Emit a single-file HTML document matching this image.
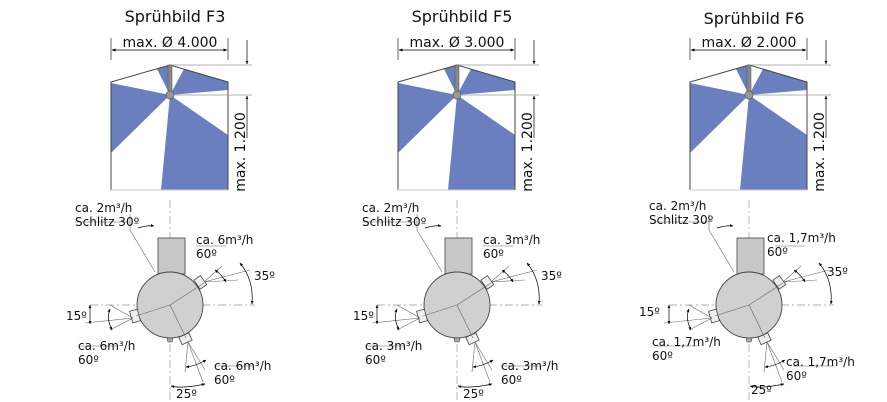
<!DOCTYPE html>
<html><head><meta charset="utf-8"><style>
html,body{margin:0;padding:0;background:#fff;}
svg{display:block;font-family:"DejaVu Sans",sans-serif;}
</style></head><body>
<svg width="887" height="402" viewBox="0 0 887 402" xmlns="http://www.w3.org/2000/svg">
<defs>
<marker id="a" viewBox="0 0 10 10" refX="9" refY="5" markerWidth="5" markerHeight="5" orient="auto-start-reverse"><path d="M0,1L10,5L0,9z" fill="#000"/></marker>
<g id="top">
  <polygon points="111,82 170,65 228,82 228,190 111,190" fill="#fff"/>
  <polygon points="170,95 157,69 170,65" fill="#6b7fbf"/>
  <polygon points="170,95 184,69 228,82 228,90" fill="#6b7fbf"/>
  <polygon points="170,95 228,135 228,190 161,190" fill="#6b7fbf"/>
  <polygon points="170,95 111,83 111,153" fill="#6b7fbf"/>
  <polyline points="111,190 111,82 170,65 228,82 228,190" fill="none" stroke="#444" stroke-width="1"/>
  <line x1="111" y1="190" x2="228" y2="190" stroke="#ccc"/>
  <rect x="168" y="65" width="4" height="30" fill="#888" stroke="#555" stroke-width="0.5"/>
  <circle cx="170" cy="95" r="4" fill="#999" stroke="#555" stroke-width="0.7"/>
  <line x1="111" y1="38" x2="111" y2="60" stroke="#000" stroke-width="0.6"/>
  <line x1="228" y1="38" x2="228" y2="60" stroke="#000" stroke-width="0.6"/>
  <line x1="112" y1="50" x2="227" y2="50" stroke="#000" stroke-width="0.8" marker-start="url(#a)" marker-end="url(#a)"/>
  <line x1="172" y1="65" x2="252" y2="65" stroke="#999" stroke-width="0.8"/>
  <line x1="172" y1="95" x2="252" y2="95" stroke="#999" stroke-width="0.8"/>
  <line x1="247" y1="40" x2="247" y2="64" stroke="#000" stroke-width="0.7" marker-end="url(#a)"/>
  <line x1="247" y1="96" x2="247" y2="138" stroke="#000" stroke-width="0.7" marker-start="url(#a)"/>
</g>
<g id="bot">
  <line x1="170" y1="200" x2="170" y2="400" stroke="#999" stroke-width="0.7" stroke-dasharray="8,3,2,3"/>
  <line x1="90" y1="305" x2="255" y2="305" stroke="#999" stroke-width="0.7" stroke-dasharray="8,3,2,3"/>
  <rect x="158" y="238" width="27" height="36" fill="#c8c8c8" stroke="#444" stroke-width="0.8"/>
  <circle cx="170" cy="305" r="33" fill="#d0d0d0" stroke="#444" stroke-width="0.9"/>
  <rect x="196" y="277" width="8" height="11" fill="#eee" stroke="#444" stroke-width="0.8" transform="rotate(-35 200 282)"/>
  <rect x="131" y="310" width="8" height="12" fill="#eee" stroke="#444" stroke-width="0.8" transform="rotate(-15 135 316)"/>
  <rect x="180" y="335" width="11" height="8" fill="#eee" stroke="#444" stroke-width="0.8" transform="rotate(-25 185 339)"/>
  <path d="M167,338 h6 l-1,4 h-4z" fill="#aaa" stroke="#444" stroke-width="0.6"/>
  <g stroke="#666" stroke-width="0.6" fill="none">
    <line x1="170" y1="305" x2="204" y2="283"/><line x1="170" y1="305" x2="136" y2="316"/><line x1="170" y1="305" x2="186" y2="338"/>
    <line x1="130" y1="230" x2="155" y2="272"/><line x1="130" y1="230" x2="130" y2="214"/>
    <line x1="204" y1="282" x2="222" y2="266"/><line x1="204" y1="282" x2="238" y2="280"/><line x1="204" y1="282" x2="250" y2="270"/>
    <line x1="133" y1="318" x2="110" y2="305"/><line x1="133" y1="318" x2="110" y2="330"/><line x1="133" y1="318" x2="85" y2="323"/>
    <line x1="188" y1="342" x2="185" y2="372"/><line x1="188" y1="342" x2="205" y2="370"/><line x1="188" y1="342" x2="203" y2="382"/>
    <line x1="196" y1="246" x2="226" y2="246"/><line x1="78" y1="346" x2="118" y2="346"/><line x1="214" y1="366" x2="255" y2="366"/><line x1="75" y1="222" x2="130" y2="222"/>
  </g>
  <g stroke="#000" stroke-width="0.7" fill="none">
    <path d="M138,228 Q148,225 154,226" marker-end="url(#a)"/>
    <path d="M215,270 Q222,275 226,282" marker-start="url(#a)" marker-end="url(#a)"/>
    <path d="M240,263 Q254,280 252,304" marker-start="url(#a)" marker-end="url(#a)"/>
    <path d="M90,305 L90,324" marker-start="url(#a)" marker-end="url(#a)"/>
    <path d="M110,309 Q106,318 112,330" marker-start="url(#a)" marker-end="url(#a)"/>
    <path d="M186,367 Q196,366 206,360" marker-start="url(#a)" marker-end="url(#a)"/>
    <path d="M171,386 Q182,389 205,384" marker-start="url(#a)" marker-end="url(#a)"/>
  </g>
</g>
</defs>

<g font-size="12" fill="#111">
<!-- F3 -->
<text x="175" y="22" font-size="16" text-anchor="middle">Sprühbild F3</text>
<use href="#top"/><use href="#bot"/>
<text x="170" y="47" font-size="14" text-anchor="middle">max. Ø 4.000</text>
<text transform="translate(245,152) rotate(-90)" font-size="14" text-anchor="middle">max. 1.200</text>
<text x="75" y="212">ca. 2m³/h</text><text x="75" y="226">Schlitz 30º</text>
<text x="196" y="244">ca. 6m³/h</text><text x="196" y="258">60º</text>
<text x="254" y="280">35º</text><text x="66" y="320">15º</text>
<text x="78" y="350">ca. 6m³/h</text><text x="78" y="364">60º</text>
<text x="214" y="370">ca. 6m³/h</text><text x="214" y="384">60º</text>
<text x="176" y="398">25º</text>

<!-- F5 -->
<g transform="translate(287,0)">
<text x="175" y="22" font-size="16" text-anchor="middle">Sprühbild F5</text>
<use href="#top"/><use href="#bot"/>
<text x="170" y="47" font-size="14" text-anchor="middle">max. Ø 3.000</text>
<text transform="translate(245,152) rotate(-90)" font-size="14" text-anchor="middle">max. 1.200</text>
<text x="75" y="212">ca. 2m³/h</text><text x="75" y="226">Schlitz 30º</text>
<text x="196" y="244">ca. 3m³/h</text><text x="196" y="258">60º</text>
<text x="254" y="280">35º</text><text x="66" y="320">15º</text>
<text x="78" y="350">ca. 3m³/h</text><text x="78" y="364">60º</text>
<text x="214" y="370">ca. 3m³/h</text><text x="214" y="384">60º</text>
<text x="176" y="398">25º</text>
</g>

<!-- F6 -->
<g transform="translate(579,0)">
<text x="175" y="24" font-size="16" text-anchor="middle">Sprühbild F6</text>
<use href="#top"/><use href="#bot"/>
<text x="170" y="47" font-size="14" text-anchor="middle">max. Ø 2.000</text>
<text transform="translate(245,152) rotate(-90)" font-size="14" text-anchor="middle">max. 1.200</text>
<text x="70" y="210">ca. 2m³/h</text><text x="70" y="224">Schlitz 30º</text>
<text x="188" y="242">ca. 1,7m³/h</text><text x="188" y="256">60º</text>
<text x="248" y="276">35º</text><text x="60" y="316">15º</text>
<text x="73" y="346">ca. 1,7m³/h</text><text x="73" y="360">60º</text>
<text x="207" y="366">ca. 1,7m³/h</text><text x="207" y="380">60º</text>
<text x="172" y="394">25º</text>
</g>
</g>
</svg>
</body></html>
